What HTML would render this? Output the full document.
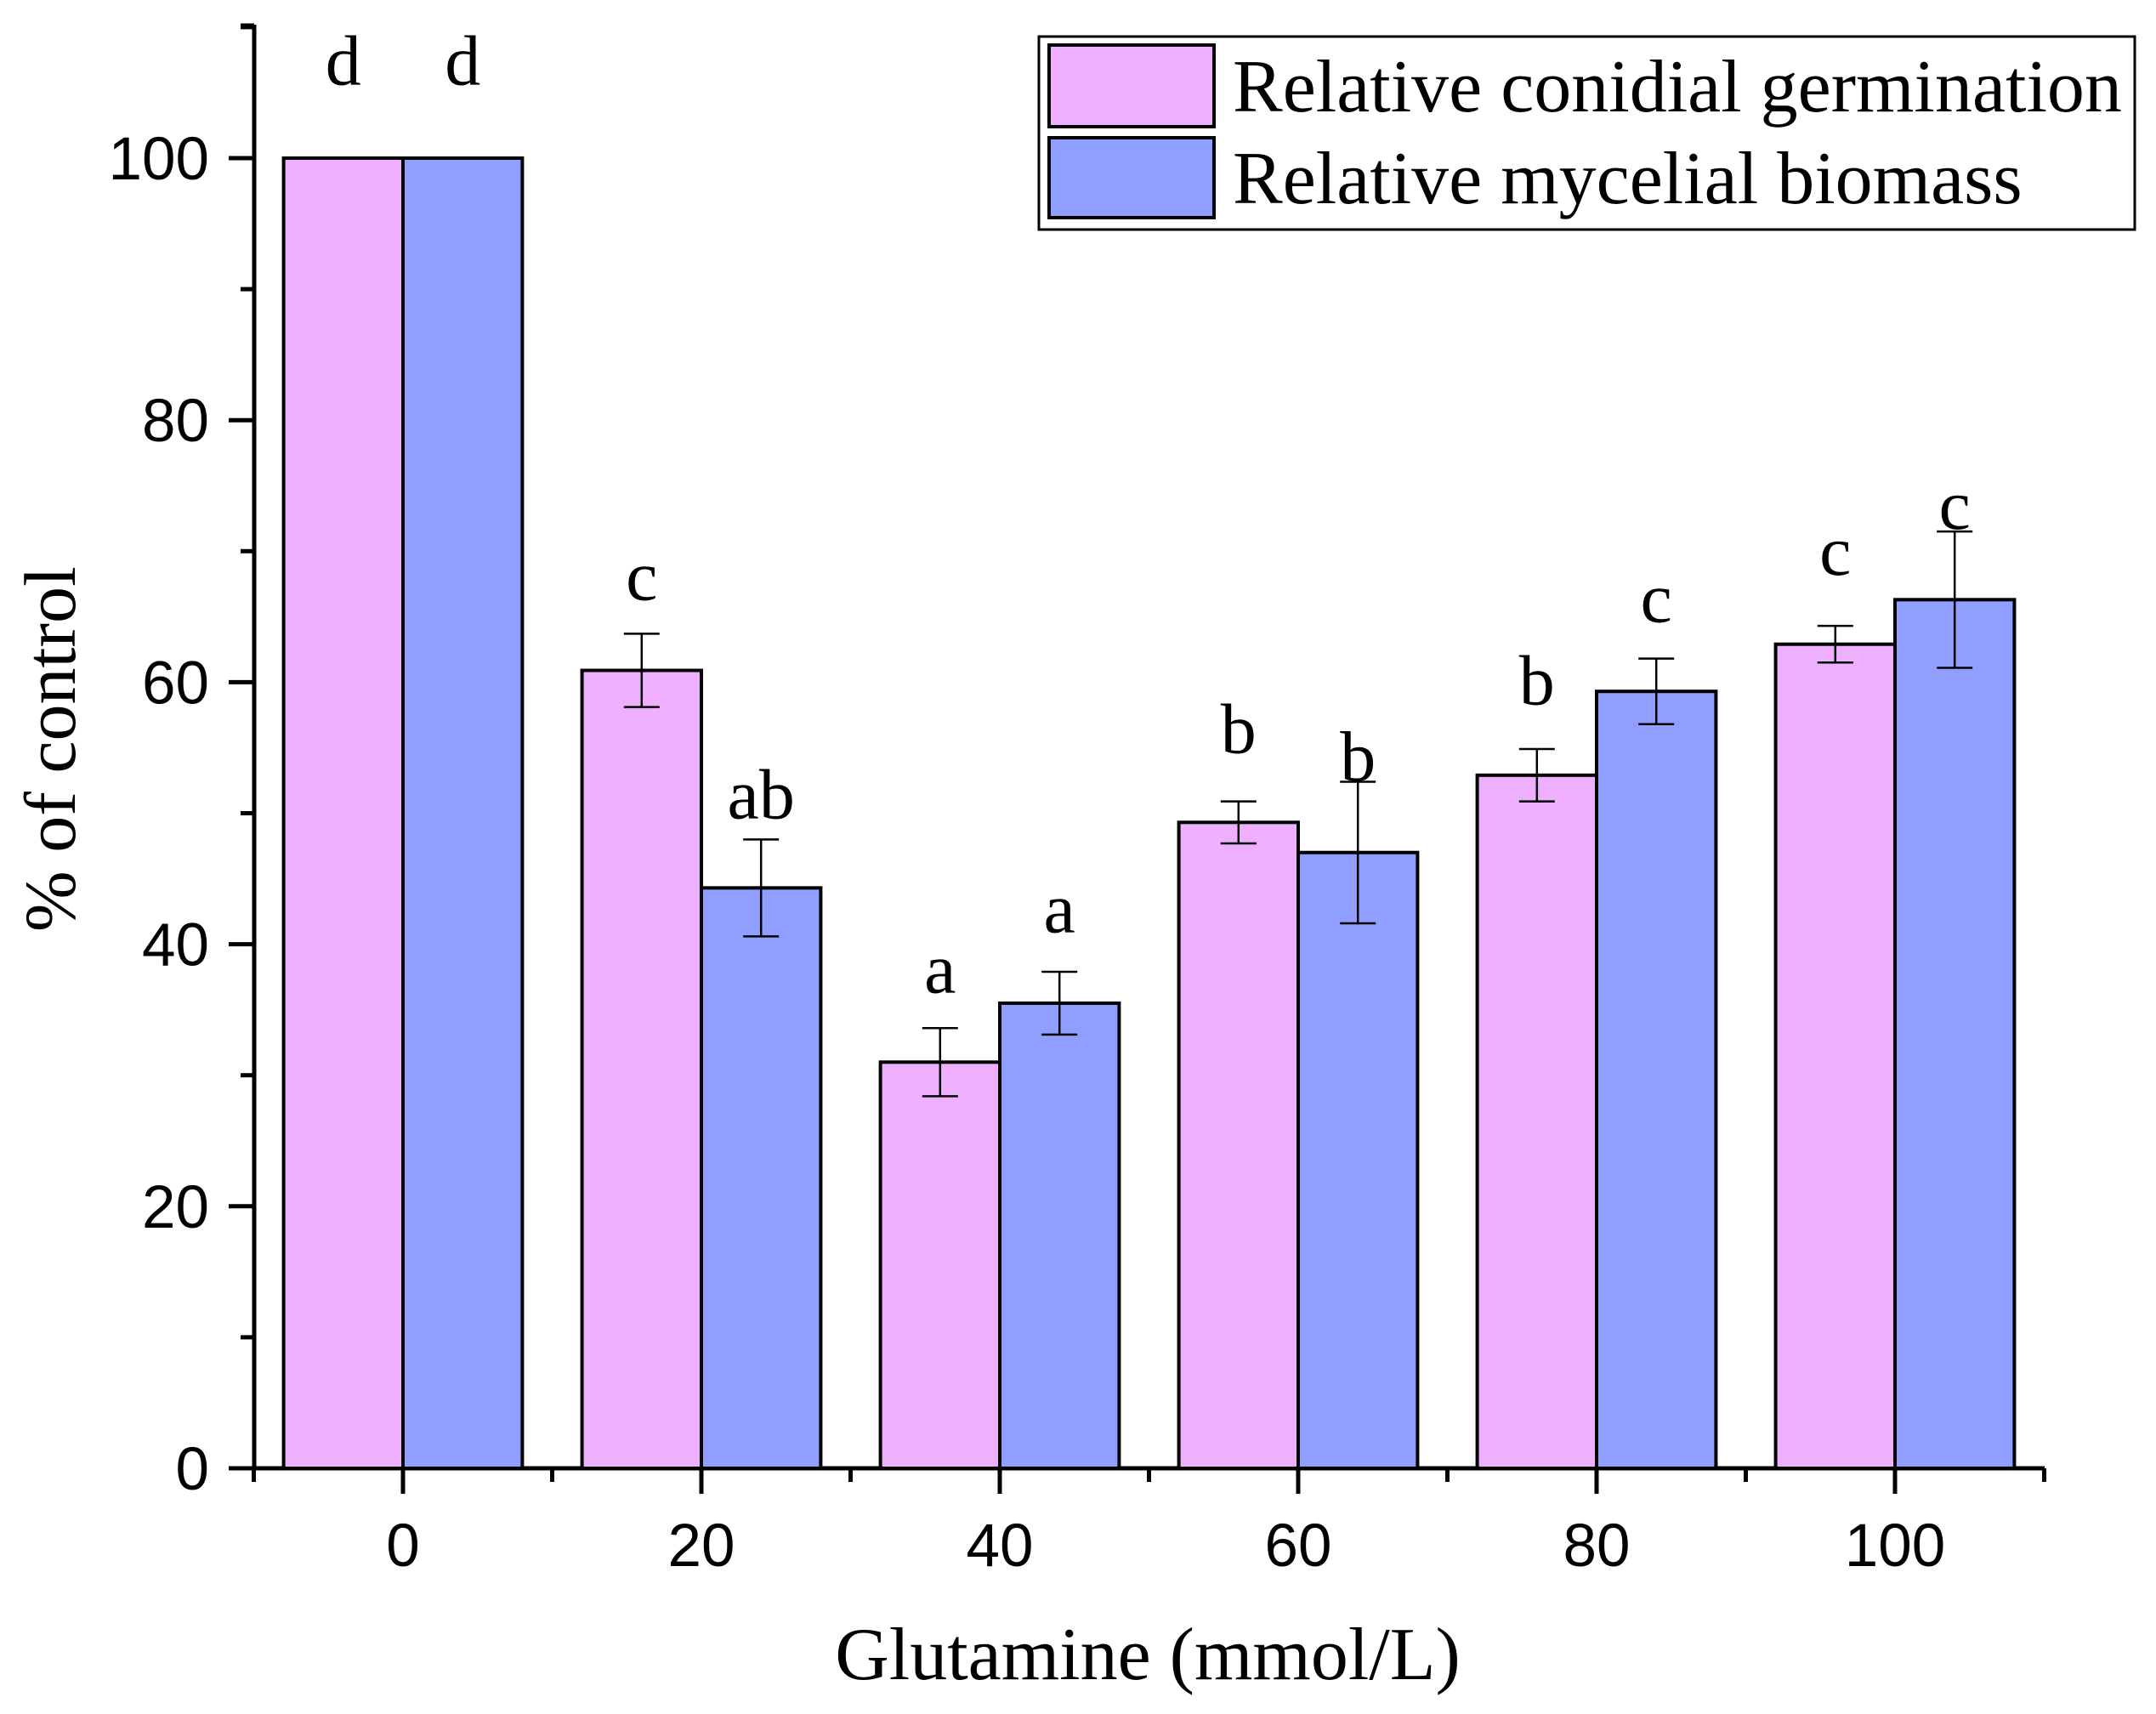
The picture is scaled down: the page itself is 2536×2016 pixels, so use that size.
<!DOCTYPE html>
<html><head><meta charset="utf-8"><style>
html,body{margin:0;padding:0;background:#fff;}
svg{display:block;}
</style></head><body>
<svg id="chart" width="2536" height="2016" xmlns="http://www.w3.org/2000/svg">
<g id="axes"></g>
<g id="bars"></g>
<g>
<rect x="1222" y="43" width="1289" height="227" fill="#fff" stroke="#000" stroke-width="3"/>
<rect x="1234" y="53" width="194" height="96" fill="#EEB0FE" stroke="#000" stroke-width="4"/>
<rect x="1234" y="162" width="194" height="94" fill="#8F9EFF" stroke="#000" stroke-width="4"/>
<text x="1450" y="131" font-family="Liberation Serif, serif" font-size="88">Relative conidial germination</text>
<text x="1450" y="239" font-family="Liberation Serif, serif" font-size="88">Relative mycelial biomass</text>
</g>
<text x="1350" y="1975" text-anchor="middle" font-family="Liberation Serif, serif" font-size="88">Glutamine (mmol/L)</text>
<text transform="translate(88,881) rotate(-90)" text-anchor="middle" font-family="Liberation Serif, serif" font-size="86">% of control</text>
</svg>
<script>
const categories = [0, 20, 40, 60, 80, 100];
const germination = [100, 60.9, 31.0, 49.3, 52.9, 62.9];
const germinationErr = [0, 2.8, 2.6, 1.6, 2.0, 1.4];
const germinationLetters = ["d", "c", "a", "b", "b", "c"];
const germinationLetterY = [105.6, 66.3, 36.3, 54.6, 58.3, 68.2];
const biomass = [100, 44.3, 35.5, 47.0, 59.3, 66.3];
const biomassErr = [0, 3.7, 2.4, 5.4, 2.5, 5.2];
const biomassLetters = ["d", "ab", "a", "b", "c", "c"];
const biomassLetterY = [105.6, 49.6, 40.9, 52.5, 64.6, 71.7];
const yTicks = [0, 20, 40, 60, 80, 100];
const xTicks = [0, 20, 40, 60, 80, 100];

const NS = "http://www.w3.org/2000/svg";
const X0 = 474, XS = 17.55, Y0 = 1727, YS = 15.41;
const xs = v => X0 + v * XS;
const ys = v => Y0 - v * YS;
function mk(parent, tag, attrs, txt) {
  const e = document.createElementNS(NS, tag);
  for (const k in attrs) e.setAttribute(k, attrs[k]);
  if (txt !== undefined) e.textContent = txt;
  parent.appendChild(e);
  return e;
}
const axes = document.getElementById("axes");
const bars = document.getElementById("bars");
const groupW = 20 * XS, barW = groupW * 0.4;

const series = [
  {vals: germination, err: germinationErr, let: germinationLetters, ly: germinationLetterY, fill: "#EEB0FE", off: -barW, name: "germination"},
  {vals: biomass, err: biomassErr, let: biomassLetters, ly: biomassLetterY, fill: "#8F9EFF", off: 0, name: "biomass"}
];
series.forEach(s => {
  categories.forEach((c, i) => {
    const x = xs(c) + s.off, v = s.vals[i];
    const r = mk(bars, "rect", {x: x, y: ys(v), width: barW, height: ys(0) - ys(v), fill: s.fill, stroke: "#000", "stroke-width": 4});
    
    
    const cx = x + barW / 2;
    if (s.err[i] > 0) {
      const eg = mk(bars, "g", {stroke: "#000", "stroke-width": 2.5});
      
      
      mk(eg, "line", {x1: cx, x2: cx, y1: ys(v + s.err[i]), y2: ys(v - s.err[i])});
      mk(eg, "line", {x1: cx - 21, x2: cx + 21, y1: ys(v + s.err[i]), y2: ys(v + s.err[i])});
      mk(eg, "line", {x1: cx - 21, x2: cx + 21, y1: ys(v - s.err[i]), y2: ys(v - s.err[i])});
    }
    const t = mk(bars, "text", {x: cx, y: ys(s.ly[i]), "text-anchor": "middle", "font-family": "Liberation Serif, serif", "font-size": 84}, s.let[i]);
    
    
  });
});

const ya = mk(axes, "line", {x1: 299, x2: 299, y1: 29, y2: Y0 + 2, stroke: "#000", "stroke-width": 5});


for (let v = 0; v <= 110; v += 10) {
  const major = v % 20 === 0;
  const tk = mk(axes, "line", {x1: 299 - (major ? 30 : 16), x2: 299, y1: ys(v), y2: ys(v), stroke: "#000", "stroke-width": 5});
  
  
}
mk(axes, "line", {x1: 283, x2: 299, y1: 30, y2: 30, stroke: "#000", "stroke-width": 5});
yTicks.forEach(v => {
  const t = mk(axes, "text", {x: 246, y: ys(v) + 25, "text-anchor": "end", "font-family": "Liberation Sans, sans-serif", "font-size": 71}, String(v));
  
  
});
const xa = mk(axes, "line", {x1: 297, x2: 2405, y1: Y0, y2: Y0, stroke: "#000", "stroke-width": 5});


for (let v = -10; v <= 110; v += 10) {
  const major = v % 20 === 0;
  const tk = mk(axes, "line", {x1: xs(v), x2: xs(v), y1: Y0, y2: Y0 + (major ? 30 : 16), stroke: "#000", "stroke-width": 5});
  
  
}
xTicks.forEach(v => {
  const t = mk(axes, "text", {x: xs(v), y: 1842, "text-anchor": "middle", "font-family": "Liberation Sans, sans-serif", "font-size": 71}, String(v));
  
  
});
</script>
</body></html>
